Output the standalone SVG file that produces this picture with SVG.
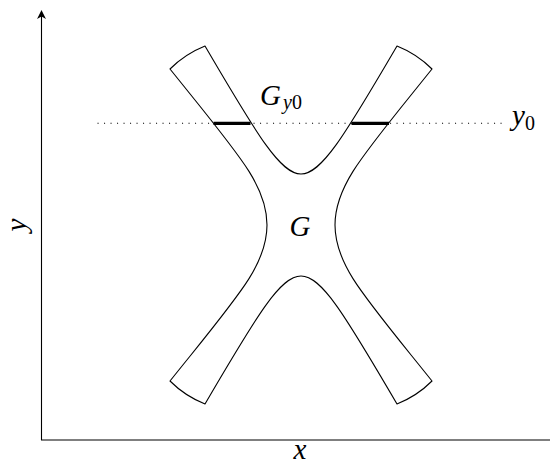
<svg xmlns="http://www.w3.org/2000/svg" width="550" height="464" viewBox="0 0 550 464">
<style>
.ax{stroke:#000;stroke-width:1.1;fill:none}
.shape{stroke:#000;stroke-width:1.1;fill:none;stroke-linejoin:round}
.dot{stroke:#000;stroke-width:1.1;stroke-dasharray:1.1 5.4;fill:none}
.thick{stroke:#000;stroke-width:3.2;fill:none}
.m{font-family:"Liberation Serif","DejaVu Serif",serif;font-style:italic;font-size:29px;fill:#000}
.s{font-size:20px}
.r{font-style:normal}
</style>
<g id="axes">
<line class="ax" x1="41.5" y1="440" x2="41.5" y2="14"/>
<line class="ax" x1="41" y1="440" x2="550" y2="440"/>
<path d="M41.5 10 L46 19 L41.5 16.5 L37 19 Z" fill="#000"/>
</g>
<g id="region-G">
<path class="shape" d="M170 69 Q185 54 205 46 C259 138.4 281 174 301 174 C321 174 343 138.4 397 46 Q417 54 432 69 C363 155 335 185 335 225 C335 265 363 295 432 381 Q417 396 397 404 C343 311.6 321 276 301 276 C281 276 259 311.6 205 404 Q185 396 170 381 C239 295 267 265 267 225 C267 185 239 155 170 69 Z"/>
</g>
<g id="line-y0">
<line class="dot" x1="97.5" y1="123.3" x2="504" y2="123.3"/>
<line class="thick" x1="213.5" y1="123.3" x2="250.5" y2="123.3"/>
<line class="thick" x1="351.5" y1="123.3" x2="389" y2="123.3"/>
</g>
<g id="labels">
<text class="m" x="260" y="105">G<tspan class="s" x="283" dy="4">y</tspan><tspan class="s r" dy="0">0</tspan></text>
<text class="m" x="300" y="236" text-anchor="middle">G</text>
<text class="m" x="512" y="125">y<tspan class="s r" dy="5">0</tspan></text>
<text class="m" x="300" y="459" text-anchor="middle">x</text>
<text class="m" text-anchor="middle" transform="translate(26,225) rotate(-90)">y</text>
</g>
</svg>
